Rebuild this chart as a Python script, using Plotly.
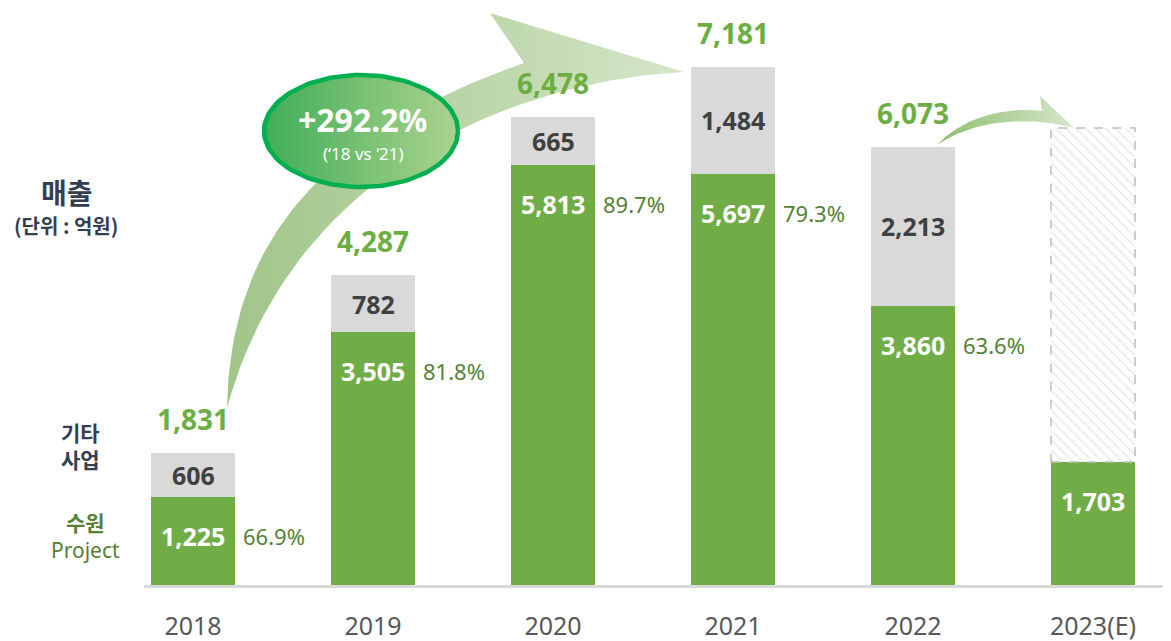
import numpy as np
import plotly.graph_objects as go

# ---------------- data ----------------
years = ["2018", "2019", "2020", "2021", "2022", "2023(E)"]
water = [1225, 3505, 5813, 5697, 3860, 1703]          # 수원 Project
other = [606, 782, 665, 1484, 2213, None]             # 기타 사업
totals = [1831, 4287, 6478, 7181, 6073, None]
water_share = [66.9, 81.8, 89.7, 79.3, 63.6, None]
est_total_2023 = 6330                                  # hatched estimate box top
growth_label = "+292.2%"
growth_sub = "(‘18 vs ‘21)"

# ---------------- style ----------------
GREEN = "#70AD47"
GRAY = "#D9D9D9"
TOTAL_GREEN = "#6DAE43"
SHARE_GREEN = "#548235"
NAVY = "#333F50"
NUM_FONT = "Noto Sans, Noto Sans CJK KR, sans-serif"
KR_FONT = "Noto Sans CJK KR, Noto Sans, sans-serif"
BW = 0.467

# page-pixel frame of the plot area (page has an 8px body margin)
PX_L, PX_R, PX_T, PX_B = 144, 1171, 8, 585


def px(xp):
    return (xp - PX_L) / (PX_R - PX_L)


def py(yp):
    return (PX_B - yp) / (PX_B - PX_T)


xs = list(range(len(years)))
fig = go.Figure()

fig.add_trace(go.Bar(x=xs, y=water, width=BW, marker=dict(color=GREEN, line=dict(width=0)),
                     hoverinfo="skip", showlegend=False))
fig.add_trace(go.Bar(x=xs, y=other, width=BW, marker=dict(color=GRAY, line=dict(width=0)),
                     hoverinfo="skip", showlegend=False))
est_rem = [None] * (len(years) - 1) + [est_total_2023 - water[-1]]
fig.add_trace(go.Bar(x=xs, y=est_rem, width=BW,
                     marker=dict(color="white", line=dict(width=0),
                                 pattern=dict(shape="\\", fgcolor="#D0D0D0", bgcolor="white",
                                              size=7, solidity=0.2)),
                     hoverinfo="skip", showlegend=False))

# dashed outline of the estimate box
fig.add_shape(type="rect", xref="x", yref="y", x0=xs[-1] - BW / 2, x1=xs[-1] + BW / 2,
              y0=water[-1], y1=est_total_2023, line=dict(color="#BDBDBD", width=1.5, dash="dash"))


# ---------------- decorations in pixel space (x2 / y2) ----------------
def cubic(p0, p1, p2, p3, n=50):
    t = np.linspace(0, 1, n)
    x = (1 - t) ** 3 * p0[0] + 3 * (1 - t) ** 2 * t * p1[0] + 3 * (1 - t) * t ** 2 * p2[0] + t ** 3 * p3[0]
    y = (1 - t) ** 3 * p0[1] + 3 * (1 - t) ** 2 * t * p1[1] + 3 * (1 - t) * t ** 2 * p2[1] + t ** 3 * p3[1]
    return list(x), list(y)


# big curved arrow
A = (227, 408); N = (524, 63); U = (490, 13); T = (684, 72)
ox, oy = cubic(A, (230, 255), (305, 140), N)
ix, iy = cubic(T, (520, 80), (292, 168), A)
bx = ox + [U[0], T[0]] + ix
by = oy + [U[1], T[1]] + iy
fig.add_trace(go.Scatter(x=bx, y=by, xaxis="x2", yaxis="y2", mode="lines", fill="toself",
                         line=dict(width=0), hoverinfo="skip", showlegend=False,
                         fillgradient=dict(type="horizontal",
                                           colorscale=[[0, "#A0C589"], [0.5, "#B9D4A6"], [1, "#D6E6CA"]])))

# small curved arrow
S = (937, 145); N2 = (1042, 111); U2 = (1040, 96); T2 = (1074, 128)
sox, soy = cubic(S, (960, 120), (1000, 106), N2)
six, siy = cubic(T2, (1030, 116), (975, 119), S)
sx = sox + [U2[0], T2[0]] + six
sy = soy + [U2[1], T2[1]] + siy
fig.add_trace(go.Scatter(x=sx, y=sy, xaxis="x2", yaxis="y2", mode="lines", fill="toself",
                         line=dict(width=0), hoverinfo="skip", showlegend=False,
                         fillgradient=dict(type="horizontal",
                                           colorscale=[[0, "#8FBD70"], [1, "#D6E6CA"]])))

# ellipse badge
th = np.linspace(0, 2 * np.pi, 120)
ex = list(361 + 97 * np.cos(th))
ey = list(131 + 56 * np.sin(th))
fig.add_trace(go.Scatter(x=ex, y=ey, xaxis="x2", yaxis="y2", mode="lines", fill="toself",
                         line=dict(width=4.5, color="#00B050"), hoverinfo="skip", showlegend=False,
                         fillgradient=dict(type="horizontal",
                                           colorscale=[[0, "#3FAE58"], [0.55, "#7CC275"], [1, "#AAD38F"]])))

ann = []
for i in xs:
    if totals[i] is not None:
        ann.append(dict(x=i, y=totals[i], xref="x", yref="y", text=f"<b>{totals[i]:,}</b>",
                        showarrow=False, yanchor="bottom", yshift=13,
                        font=dict(family=NUM_FONT, size=28, color=TOTAL_GREEN)))
    if other[i] is not None:
        ann.append(dict(x=i, y=water[i] + other[i] / 2, xref="x", yref="y", text=f"<b>{other[i]:,}</b>",
                        showarrow=False, font=dict(family=NUM_FONT, size=25, color="#404040")))
    ann.append(dict(x=i, y=water[i], xref="x", yref="y", text=f"<b>{water[i]:,}</b>",
                    showarrow=False, yshift=-39, font=dict(family=NUM_FONT, size=25, color="white")))
    if water_share[i] is not None:
        ann.append(dict(x=i + BW / 2, y=water[i], xref="x", yref="y", text=f"{water_share[i]}%",
                        showarrow=False, xanchor="left", xshift=6, yshift=-39,
                        font=dict(family=NUM_FONT, size=22, color=SHARE_GREEN)))

# badge text
ann.append(dict(x=362, y=119, xref="x2", yref="y2", text=f"<b>{growth_label}</b>", showarrow=False,
                font=dict(family=NUM_FONT, size=32, color="white")))
ann.append(dict(x=363, y=153, xref="x2", yref="y2", text=growth_sub, showarrow=False,
                font=dict(family=NUM_FONT, size=17, color="white")))

# left side labels (paper coordinates, outside the plot area)
left_labels = [
    (67, 192, "<b>매출</b>", 28, NAVY, KR_FONT),
    (66, 225, "<b>(단위 : 억원)</b>", 20, NAVY, KR_FONT),
    (80, 445, "<b>기타<br>사업</b>", 21, NAVY, KR_FONT),
    (85, 535, "<b>수원</b><br><span style='font-family:Noto Sans'>Project</span>", 21, SHARE_GREEN, KR_FONT),
]
for lx, ly, txt, sz, col, fam in left_labels:
    ann.append(dict(x=px(lx), y=py(ly), xref="paper", yref="paper", text=txt, showarrow=False,
                    xanchor="center", yanchor="middle", align="center",
                    font=dict(family=fam, size=sz, color=col)))

fig.update_layout(
    width=1163, height=633, barmode="stack", bargap=0,
    margin=dict(l=136, r=0, t=0, b=56),
    paper_bgcolor="white", plot_bgcolor="rgba(0,0,0,0)",
    showlegend=False, annotations=ann,
    xaxis=dict(range=[-0.2722, 5.4333], tickvals=xs, ticktext=years, showgrid=False, zeroline=False,
               showline=True, linecolor="#D9D9D9", linewidth=3, ticks="", ticklabelstandoff=17,
               tickfont=dict(family=NUM_FONT, size=25, color="#595959"), fixedrange=True),
    yaxis=dict(range=[0, 7992], visible=False, fixedrange=True),
    xaxis2=dict(range=[PX_L, PX_R], overlaying="x", anchor="y2", visible=False, fixedrange=True),
    yaxis2=dict(range=[PX_B, PX_T], overlaying="y", anchor="x2", visible=False, fixedrange=True),
)

fig.write_html("out.html")
